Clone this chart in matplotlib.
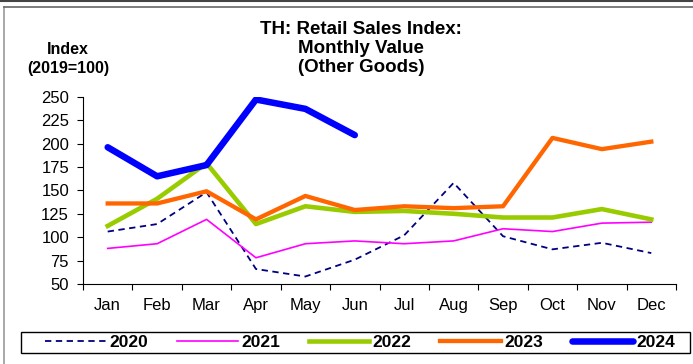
import matplotlib
matplotlib.use("Agg")
import matplotlib.pyplot as plt
from matplotlib.lines import Line2D
from matplotlib.patches import Rectangle

plt.rcParams['font.family'] = ['Liberation Sans', 'DejaVu Sans']

months = ["Jan", "Feb", "Mar", "Apr", "May", "Jun",
          "Jul", "Aug", "Sep", "Oct", "Nov", "Dec"]
y2020 = [106, 114, 148, 66, 58, 76, 102, 158, 101, 87, 94, 83]
y2021 = [88, 93, 119, 78, 93, 96, 93, 96, 109, 106, 115, 116]
y2022 = [112, 141, 179, 114, 133, 127, 128, 125, 121, 121, 130, 119]
y2023 = [136, 136, 149, 119, 144, 129, 133, 131, 133, 206, 194, 202]
y2024 = [196, 165, 177, 247, 237, 209]
yticks = [50, 75, 100, 125, 150, 175, 200, 225, 250]

W, H = 693, 364
fig = plt.figure(figsize=(W / 100, H / 100), dpi=100)
ax = fig.add_axes([83 / W, 1 - 284 / H, (676 - 83) / W, (284 - 96.7) / H])

x = [i + 0.5 for i in range(12)]
ax.plot(x, y2020, color="#000080", lw=1.3, ls=(0, (3.5, 2.5)), label="2020")
ax.plot(x, y2021, color="#FF00FF", lw=1.2, label="2021")
ax.plot(x, y2022, color="#99CC00", lw=3.3, label="2022")
ax.plot(x, y2023, color="#FF6600", lw=3.1, label="2023")
ax.plot(x[:len(y2024)], y2024, color="#0000FF", lw=4.7, label="2024",
        solid_capstyle="round")

ax.set_xlim(0, 12)
ax.set_ylim(50, 250)
ax.set_yticks(yticks)
ax.set_xticks(range(13))
ax.set_xticklabels([])
ax.set_xticks(x, minor=True)
ax.set_xticklabels(months, minor=True, fontsize=12)
ax.tick_params(axis="x", which="minor", length=0, pad=10)
ax.tick_params(axis="x", which="major", length=4, direction="out")
ax.tick_params(axis="y", length=4, direction="out", labelsize=12, pad=6)
for s in ["top", "right"]:
    ax.spines[s].set_visible(False)

fig.text(361 / W, 1 - 29 / H, "TH: Retail Sales Index:", ha="center", va="center",
         fontsize=13.5, fontweight="bold")
fig.text(361 / W, 1 - 48.5 / H, "Monthly Value", ha="center", va="center",
         fontsize=13.5, fontweight="bold")
fig.text(361 / W, 1 - 68 / H, "(Other Goods)", ha="center", va="center",
         fontsize=13.5, fontweight="bold")
fig.text(68 / W, 1 - 49 / H, "Index", ha="center", va="center",
         fontsize=11.5, fontweight="bold")
fig.text(68 / W, 1 - 68 / H, "(2019=100)", ha="center", va="center",
         fontsize=11.5, fontweight="bold")

# outer frame
fig.add_artist(Line2D([4 / W, 4 / W], [0, 1 - 7 / H], transform=fig.transFigure,
                      color="#999999", lw=1.2))
fig.add_artist(Line2D([4 / W, 1], [1 - 7 / H, 1 - 7 / H], transform=fig.transFigure,
                      color="#666666", lw=1.2))
fig.add_artist(Line2D([0, 1], [1 - 1 / H, 1 - 1 / H], transform=fig.transFigure,
                      color="#444444", lw=1.5))

# legend box
fig.add_artist(Rectangle((21 / W, 1 - 353 / H), 669 / W, 21 / H,
                         transform=fig.transFigure, fill=False,
                         edgecolor="black", lw=1.0))
leg = fig.legend(loc="center", ncol=5, bbox_to_anchor=(360 / W, 1 - 342.5 / H),
                 handlelength=3.5, handletextpad=0.2, columnspacing=1.65,
                 frameon=False, borderpad=0.0,
                 prop={"weight": "bold", "size": 12.5})

fig.savefig("out.png", dpi=100)
